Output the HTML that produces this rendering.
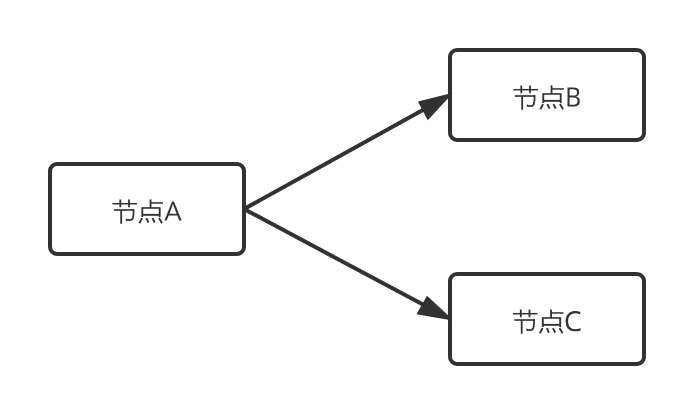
<!DOCTYPE html>
<html lang="zh"><head><meta charset="utf-8"><title>diagram</title>
<style>
html,body{margin:0;padding:0;background:#fff;font-family:"Liberation Sans",sans-serif;}
svg{display:block;}
</style></head>
<body>
<svg width="694" height="414" viewBox="0 0 694 414">
<rect width="694" height="414" fill="#fff"/>
<g stroke="#323232" stroke-width="4" fill="#323232" stroke-linecap="butt">
<line x1="244.00" y1="209.00" x2="424.19" y2="109.28"/><polygon stroke="none" points="453.20,92.80 417.90,101.55 427.75,120.35"/>
<line x1="244.00" y1="209.00" x2="423.92" y2="305.07"/><polygon stroke="none" points="454.00,320.75 427.00,295.65 416.40,314.30"/>
</g>
<g fill="#fff" stroke="#323232" stroke-width="4">
<rect x="50" y="164" width="194" height="90" rx="7" ry="7"/>
<rect x="450" y="50" width="194" height="90" rx="7" ry="7"/>
<rect x="450" y="274" width="194" height="90" rx="7" ry="7"/>
</g>
<g fill="#323232" fill-opacity=".16"><rect x="452" y="93" width="1" height="1"/><rect x="452" y="320" width="1" height="1" fill-opacity=".07"/></g>
<g fill="#323232">
<g transform="translate(0 0)">
<g fill="none" stroke="#323232">
<path stroke-width="1.5" d="M112.4 203.7H137"/>
<path stroke-width="1.65" d="M113.9 210H134.2"/>
<path stroke-width="1.8" d="M120.3 199.4V207.15M129 199.4V207.15M121.2 210V223.85"/>
<path stroke-width="1.75" d="M133.45 209.2C133.7 212 133.6 215.5 132.95 217.7C132.4 219.6 131.5 220.1 129.9 220.1L127.2 219.95"/>
<path stroke-width="2.1" d="M127.6 219.95L125.85 219.55"/>
</g>
<g fill="none" stroke="#323232">
<path stroke-width="1.8" d="M150.55 199.4V208"/>
<path stroke-width="1.5" d="M150.55 202.95H162.9"/>
<path stroke-width="1.6" d="M142.3 207.95H159.7"/>
<path stroke-width="1.85" d="M142.3 207.15V217M159.7 207.15V217"/>
<path stroke-width="1.9" d="M142.3 214.85H159.7"/>
<path stroke-width="1.9" d="M142.1 218.1L139.35 223.3M146.4 218.1L148.45 222.7M152.45 218.1L154.75 222.5M158.95 218.1L162.1 223.2"/>
</g>
</g>
<path transform="matrix(0.01327 0 0 -0.01308 164.400 220.600)" d="M1120 0L969 385H321L172 0H0L578 1468H721L1296 0ZM918 530L715 1071Q682 1157 647 1282Q625 1186 584 1071L379 530Z"/>
<g transform="translate(401 -114)">
<g fill="none" stroke="#323232">
<path stroke-width="1.5" d="M112.4 203.7H137"/>
<path stroke-width="1.65" d="M113.9 210H134.2"/>
<path stroke-width="1.8" d="M120.3 199.4V207.15M129 199.4V207.15M121.2 210V223.85"/>
<path stroke-width="1.75" d="M133.45 209.2C133.7 212 133.6 215.5 132.95 217.7C132.4 219.6 131.5 220.1 129.9 220.1L127.2 219.95"/>
<path stroke-width="2.1" d="M127.6 219.95L125.85 219.55"/>
</g>
<g fill="none" stroke="#323232">
<path stroke-width="1.8" d="M150.55 199.4V208"/>
<path stroke-width="1.5" d="M150.55 202.95H162.9"/>
<path stroke-width="1.6" d="M142.3 207.95H159.7"/>
<path stroke-width="1.85" d="M142.3 207.15V217M159.7 207.15V217"/>
<path stroke-width="1.9" d="M142.3 214.85H159.7"/>
<path stroke-width="1.9" d="M142.1 218.1L139.35 223.3M146.4 218.1L148.45 222.7M152.45 218.1L154.75 222.5M158.95 218.1L162.1 223.2"/>
</g>
</g>
<path transform="matrix(0.01214 0 0 -0.01313 565.059 106.600)" d="M201 1462H614Q905 1462 1035 1375Q1165 1288 1165 1100Q1165 970 1092.5 885.5Q1020 801 881 776V766Q1214 709 1214 416Q1214 220 1081.5 110Q949 0 711 0H201ZM371 836H651Q831 836 910 892.5Q989 949 989 1083Q989 1206 901 1260.5Q813 1315 621 1315H371ZM371 692V145H676Q853 145 942.5 213.5Q1032 282 1032 428Q1032 564 940.5 628Q849 692 662 692Z"/>
<g transform="translate(400.5 110)">
<g fill="none" stroke="#323232">
<path stroke-width="1.5" d="M112.4 203.7H137"/>
<path stroke-width="1.65" d="M113.9 210H134.2"/>
<path stroke-width="1.8" d="M120.3 199.4V207.15M129 199.4V207.15M121.2 210V223.85"/>
<path stroke-width="1.75" d="M133.45 209.2C133.7 212 133.6 215.5 132.95 217.7C132.4 219.6 131.5 220.1 129.9 220.1L127.2 219.95"/>
<path stroke-width="2.1" d="M127.6 219.95L125.85 219.55"/>
</g>
<g fill="none" stroke="#323232">
<path stroke-width="1.8" d="M150.55 199.4V208"/>
<path stroke-width="1.5" d="M150.55 202.95H162.9"/>
<path stroke-width="1.6" d="M142.3 207.95H159.7"/>
<path stroke-width="1.85" d="M142.3 207.15V217M159.7 207.15V217"/>
<path stroke-width="1.9" d="M142.3 214.85H159.7"/>
<path stroke-width="1.9" d="M142.1 218.1L139.35 223.3M146.4 218.1L148.45 222.7M152.45 218.1L154.75 222.5M158.95 218.1L162.1 223.2"/>
</g>
</g>
<path transform="matrix(0.01365 0 0 -0.01344 563.893 331.031)" d="M827 1331Q586 1331 446.5 1170.5Q307 1010 307 731Q307 444 441.5 287.5Q576 131 825 131Q985 131 1228 198V48Q1040 -20 799 -20Q476 -20 300.5 176Q125 372 125 733Q125 959 209.5 1129Q294 1299 453.5 1391Q613 1483 829 1483Q1059 1483 1231 1399L1159 1253Q993 1331 827 1331Z"/>
</g>
</svg>
</body></html>
